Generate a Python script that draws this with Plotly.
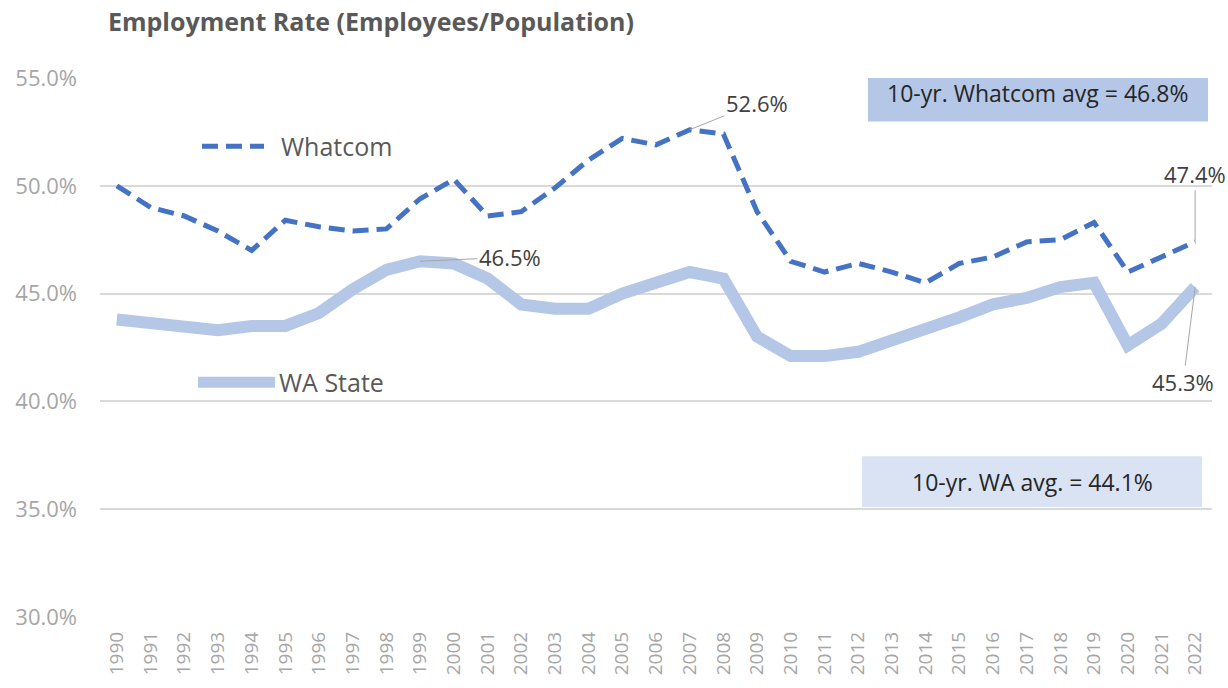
import plotly.graph_objects as go

years = [str(y) for y in range(1990, 2023)]
whatcom = [50.0, 49.0, 48.6, 47.9, 47.0, 48.4, 48.1, 47.9, 48.0, 49.4, 50.3, 48.6, 48.8,
           49.9, 51.2, 52.2, 51.9, 52.6, 52.4, 48.8, 46.5, 46.0, 46.4, 46.0, 45.5, 46.4,
           46.7, 47.4, 47.5, 48.3, 46.0, 46.7, 47.4]
wa_state = [43.8, 43.6, 43.4, 43.3, 43.5, 43.5, 44.1, 45.2, 46.1, 46.5, 46.4, 45.7, 44.5,
            44.3, 44.3, 45.0, 45.5, 46.0, 45.7, 43.0, 42.1, 42.1, 42.3, 42.8, 43.3, 43.9,
            44.5, 44.8, 45.3, 45.5, 42.6, 43.6, 45.3]
y_ticks = [30, 35, 40, 45, 50, 55]
y_tick_labels = [f"{v:.1f}%" for v in y_ticks]

FONT = "Open Sans"
DARK_BLUE = "#4472C4"
LIGHT_BLUE = "#B4C7E7"
PALE_BLUE = "#DAE3F3"
GRID = "#D9D9D9"
TICK_GREY = "#A6A6A6"
TEXT = "#404040"

fig = go.Figure()
fig.add_trace(go.Scatter(x=years, y=wa_state, mode="lines", name="WA State",
                         line=dict(color=LIGHT_BLUE, width=12), showlegend=False))
fig.add_trace(go.Scatter(x=years, y=whatcom, mode="lines", name="Whatcom",
                         line=dict(color=DARK_BLUE, width=5, dash="16px,8px"),
                         showlegend=False))

# Legend-like samples inside the plot
fig.add_shape(type="line", xref="paper", yref="y", x0=0.0917, x1=0.1475, y0=51.83, y1=51.83,
              line=dict(color=DARK_BLUE, width=5, dash="16px,8px"))
fig.add_shape(type="line", xref="paper", yref="y", x0=0.0881, x1=0.1574, y0=40.89, y1=40.89,
              line=dict(color=LIGHT_BLUE, width=11))
fig.add_annotation(xref="paper", yref="y", x=0.1606, y=51.83, text="Whatcom", showarrow=False,
                   xanchor="left", yanchor="middle", font=dict(family=FONT, size=25, color="#595959"))
fig.add_annotation(xref="paper", yref="y", x=0.159, y=40.89, text="WA State", showarrow=False,
                   xanchor="left", yanchor="middle", font=dict(family=FONT, size=25, color="#595959"))

# Average boxes
fig.add_shape(type="rect", xref="paper", yref="y", x0=0.6906, x1=0.9964, y0=52.98, y1=55.63,
              fillcolor=LIGHT_BLUE, line=dict(width=0), layer="below")
fig.add_annotation(xref="paper", yref="y", x=(0.6906 + 0.9964) / 2, y=(52.98 + 55.63) / 2,
                   text="10-yr. Whatcom avg = 46.8%", showarrow=False,
                   xanchor="center", yanchor="middle",
                   font=dict(family=FONT, size=23, color="#262626"))
fig.add_shape(type="rect", xref="paper", yref="y", x0=0.6853, x1=0.991, y0=35.1, y1=37.46,
              fillcolor=PALE_BLUE, line=dict(width=0), layer="below")
fig.add_annotation(xref="paper", yref="y", x=(0.6853 + 0.991) / 2, y=(35.1 + 37.46) / 2,
                   text="10-yr. WA avg. = 44.1%", showarrow=False,
                   xanchor="center", yanchor="middle",
                   font=dict(family=FONT, size=23, color="#262626"))

# Data labels with leader lines (x given as category index)
labels = [
    (17, whatcom, 67, -27),
    (9, wa_state, 90, -4),
    (32, whatcom, 0, -68),
    (32, wa_state, -12, 95),
]
for i, series, ax, ay in labels:
    fig.add_annotation(x=i, y=series[i], xref="x", yref="y", text=f"{series[i]:.1f}%",
                       showarrow=True, arrowhead=0, arrowwidth=1, arrowcolor=TICK_GREY,
                       ax=ax, ay=ay, xanchor="center", yanchor="middle",
                       font=dict(family=FONT, size=22, color=TEXT))

fig.update_layout(
    width=1228, height=688,
    margin=dict(l=100, r=16, t=77.5, b=71),
    paper_bgcolor="white", plot_bgcolor="white",
    title=dict(text="<b>Employment Rate (Employees/Population)</b>",
               xref="container", yref="container", x=108 / 1228, y=1 - 22 / 688,
               xanchor="left", yanchor="middle",
               font=dict(family=FONT, size=25, color="#595959")),
    font=dict(family=FONT),
)
fig.update_xaxes(type="category", range=[-0.5, 32.5], tickangle=-90, showgrid=False,
                 showline=False, ticks="", tickfont=dict(family=FONT, size=19, color=TICK_GREY),
                 ticklabelstandoff=10)
fig.update_yaxes(range=[30, 55], tickvals=y_ticks, ticktext=y_tick_labels,
                 showgrid=True, gridcolor=GRID, gridwidth=1.5, zeroline=False, showline=False,
                 tickfont=dict(family=FONT, size=22, color=TICK_GREY), ticklabelstandoff=22)

fig.write_html("out.html", config={"displayModeBar": False},
               post_script="document.body.style.margin='0';")
